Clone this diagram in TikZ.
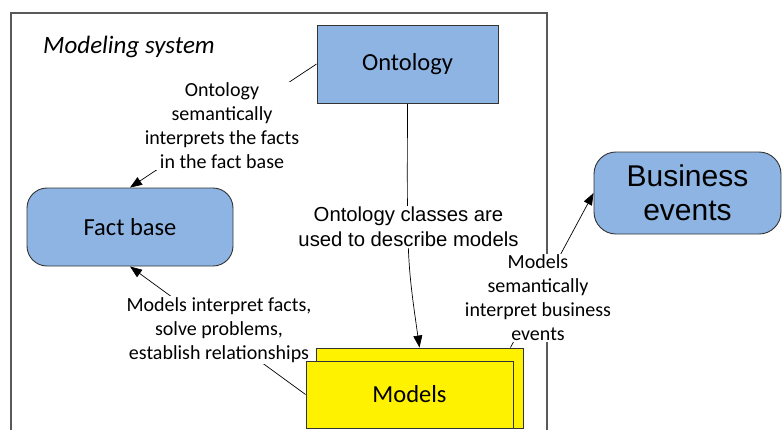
\documentclass[tikz,border=0pt]{standalone}
\usepackage{fontspec}
\setmainfont{Carlito}
\newfontfamily\arialf{Liberation Sans}
\usetikzlibrary{arrows.meta}
\definecolor{boxblue}{RGB}{141,180,227}
\pgfdeclarelayer{bg}
\pgfsetlayers{bg,main}
\tikzset{
  blk/.style={draw=black!80, line width=0.9pt, inner sep=0pt, anchor=center},
  bluebox/.style={blk, fill=boxblue, font=\fontsize{24.5}{29}\selectfont},
  ylbox/.style={blk, fill=yellow, font=\fontsize{24.5}{29}\selectfont},
  lbl/.style={fill=white, inner sep=1pt, align=center, font=\fontsize{20}{24}\selectfont},
  conn/.style={line width=0.7pt},
  arr/.style={conn, -{Triangle[length=12pt,width=9pt]}},
  frame/.style={draw=black!65, line width=1.3pt}
}
\begin{document}
\begin{tikzpicture}[x=1pt,y=-1pt]
\clip (0,0) rectangle (782,429);
% boxes
\node[bluebox, minimum width=181pt, minimum height=78pt] (onto) at (407.5,64) {Ontology};
\node[bluebox, rounded corners=20pt, minimum width=206pt, minimum height=78pt] (fact) at (130,227) {Fact base};
\node[bluebox, rounded corners=22pt, minimum width=187pt, minimum height=82pt, align=center,
      font=\arialf\fontsize{30}{34}\selectfont] (bus) at (687.5,193) {Business\\events};
\node[ylbox, minimum width=207pt, minimum height=80pt] (back) at (419.5,388) {};
\node[ylbox, minimum width=207pt, minimum height=67pt] (front) at (409.5,394.5) {Models};
\node[anchor=west, inner sep=0pt, font=\itshape\fontsize{25}{30}\selectfont] (title) at (43,47) {Modeling system};
\begin{pgfonlayer}{bg}
  \draw[frame] (11,445) -- (11,13) -- (547,13) -- (547,445);
  % connectors
  \draw[arr] (onto.west) -- (fact.north);
  \draw[arr] (front.west) -- (fact.south);
  \draw[arr] (onto.south) .. controls (407,260) .. (back.north);
  \draw[arr] ([xshift=-13pt]back.north east) -- (bus.west);
  % labels
  \node[lbl] (lab1) at (222,126) {Ontology\\semantically\\interprets the facts\\in the fact base};
  \node[lbl, font=\arialf\fontsize{20.3}{25}\selectfont] (lab2) at (408.5,227) {Ontology classes are\\used to describe models};
  \node[lbl] (lab3) at (219,330) {Models interpret facts,\\solve problems,\\establish relationships};
  \node[lbl] (lab4) at (538,298) {Models\\semantically\\interpret business\\events};
\end{pgfonlayer}
\end{tikzpicture}
\end{document}
